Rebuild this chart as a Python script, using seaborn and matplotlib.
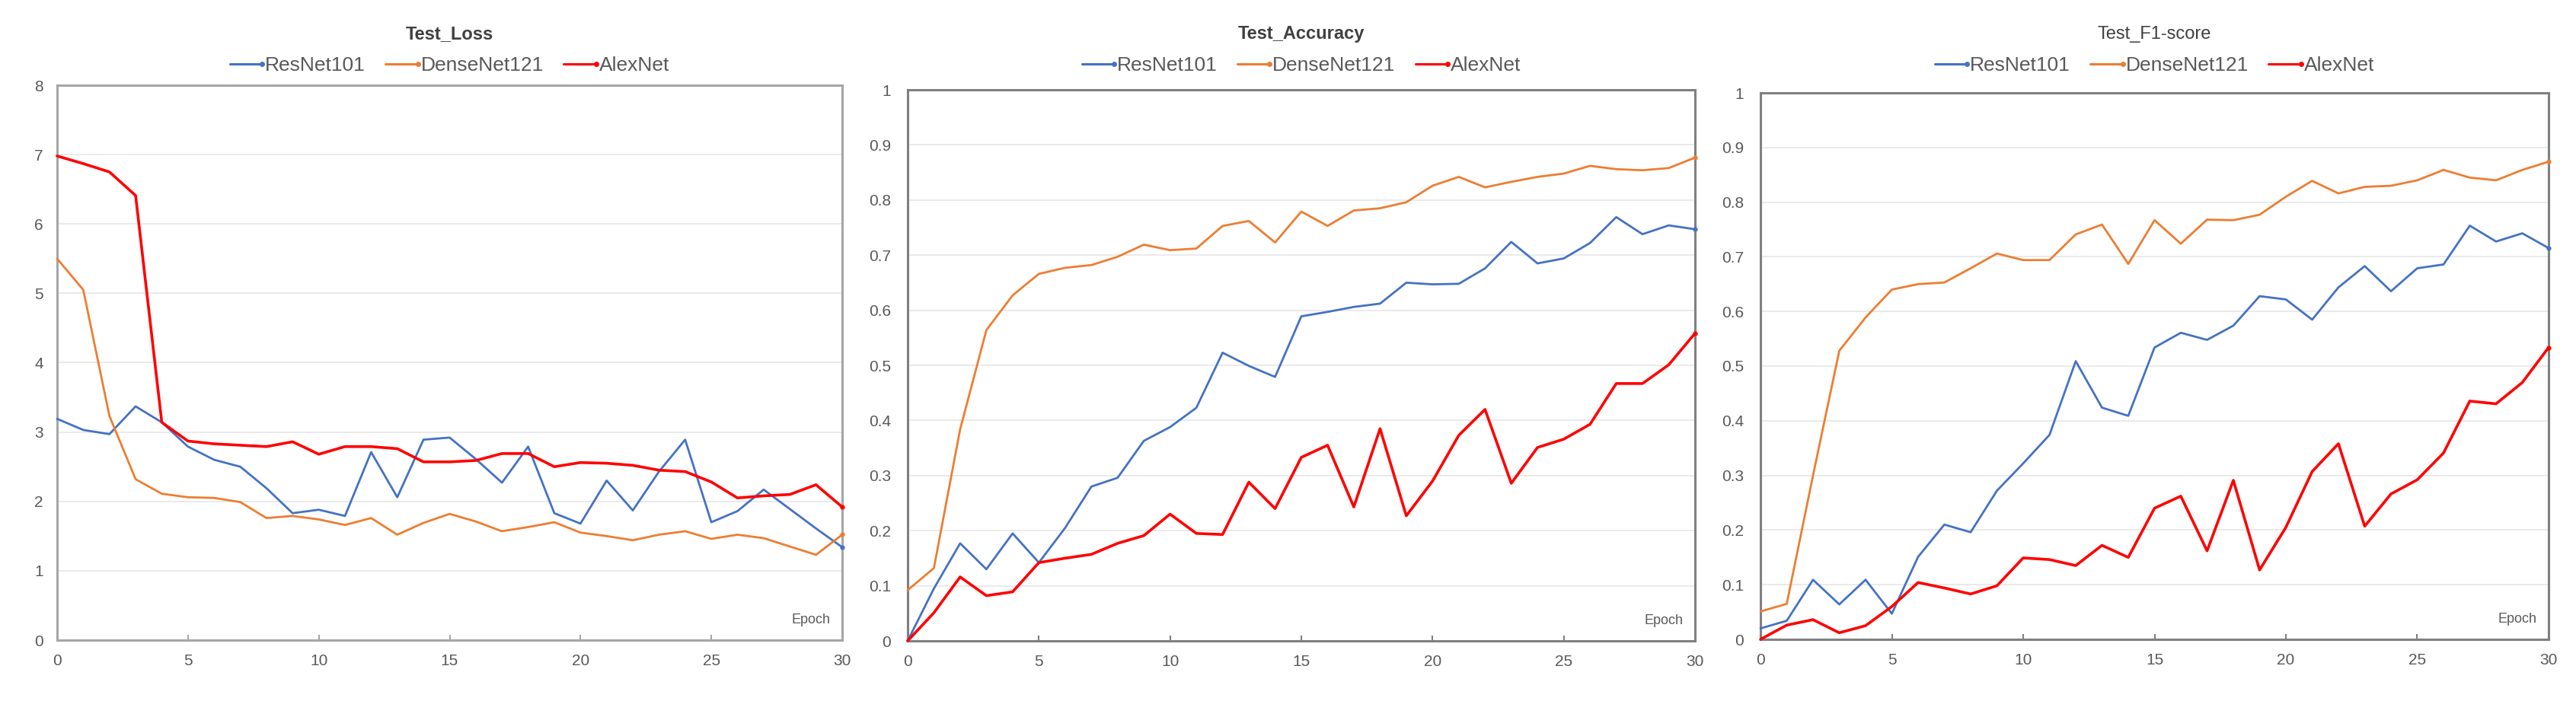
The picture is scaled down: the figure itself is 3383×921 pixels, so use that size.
import matplotlib
matplotlib.use("Agg")
import matplotlib.pyplot as plt
import seaborn as sns
import pandas as pd
from matplotlib.lines import Line2D
from matplotlib.legend_handler import HandlerLine2D

# ---------------- data ----------------
epochs = list(range(31))
models = ["ResNet101", "DenseNet121", "AlexNet"]
titles = ["Test_Loss", "Test_Accuracy", "Test_F1-score"]
x_ticks = [0, 5, 10, 15, 20, 25, 30]
loss_ticks = [0, 1, 2, 3, 4, 5, 6, 7, 8]
score_ticks = [0, 0.1, 0.2, 0.3, 0.4, 0.5, 0.6, 0.7, 0.8, 0.9, 1]

loss_resnet = [3.19, 3.03, 2.97, 3.37, 3.14, 2.79, 2.60, 2.50, 2.19, 1.83, 1.88,
               1.79, 2.71, 2.06, 2.89, 2.92, 2.61, 2.27, 2.79, 1.83, 1.68,
               2.30, 1.87, 2.43, 2.89, 1.70, 1.86, 2.17, 1.89, 1.61, 1.34]
loss_densenet = [5.50, 5.05, 3.23, 2.32, 2.11, 2.06, 2.05, 1.99, 1.76, 1.79, 1.74,
                 1.66, 1.76, 1.52, 1.69, 1.82, 1.71, 1.57, 1.63, 1.70, 1.55,
                 1.50, 1.44, 1.52, 1.57, 1.46, 1.52, 1.47, 1.35, 1.23, 1.52]
loss_alexnet = [6.98, 6.87, 6.75, 6.41, 3.14, 2.87, 2.83, 2.81, 2.79, 2.86, 2.68,
                2.79, 2.79, 2.76, 2.57, 2.57, 2.59, 2.69, 2.69, 2.50, 2.56,
                2.55, 2.52, 2.45, 2.43, 2.28, 2.05, 2.08, 2.10, 2.24, 1.92]

acc_resnet = [0.000, 0.095, 0.177, 0.130, 0.195, 0.142, 0.205, 0.280, 0.296, 0.363, 0.388,
              0.423, 0.523, 0.499, 0.479, 0.589, 0.597, 0.606, 0.612, 0.650, 0.647,
              0.648, 0.676, 0.724, 0.685, 0.694, 0.722, 0.769, 0.738, 0.754, 0.747]
acc_densenet = [0.092, 0.132, 0.384, 0.564, 0.627, 0.666, 0.677, 0.682, 0.697, 0.719, 0.709,
                0.712, 0.753, 0.762, 0.723, 0.779, 0.753, 0.781, 0.785, 0.796, 0.826,
                0.842, 0.823, 0.833, 0.842, 0.848, 0.862, 0.856, 0.854, 0.858, 0.877]
acc_alexnet = [0.000, 0.051, 0.116, 0.082, 0.089, 0.142, 0.150, 0.157, 0.177, 0.191, 0.230,
               0.195, 0.193, 0.288, 0.240, 0.333, 0.355, 0.243, 0.385, 0.227, 0.290,
               0.373, 0.420, 0.286, 0.351, 0.366, 0.393, 0.467, 0.467, 0.501, 0.558]

f1_resnet = [0.020, 0.034, 0.109, 0.064, 0.109, 0.047, 0.151, 0.210, 0.196, 0.272, 0.322,
             0.374, 0.509, 0.424, 0.409, 0.534, 0.561, 0.548, 0.574, 0.628, 0.622,
             0.585, 0.644, 0.683, 0.637, 0.679, 0.686, 0.757, 0.728, 0.743, 0.716]
f1_densenet = [0.051, 0.065, 0.300, 0.528, 0.589, 0.640, 0.650, 0.653, 0.679, 0.706, 0.694,
               0.694, 0.741, 0.759, 0.687, 0.767, 0.724, 0.768, 0.767, 0.777, 0.810,
               0.839, 0.816, 0.828, 0.830, 0.840, 0.859, 0.845, 0.840, 0.859, 0.874]
f1_alexnet = [0.000, 0.026, 0.036, 0.012, 0.025, 0.060, 0.104, 0.094, 0.083, 0.098, 0.149,
              0.146, 0.135, 0.172, 0.150, 0.240, 0.262, 0.162, 0.291, 0.127, 0.205,
              0.307, 0.358, 0.207, 0.266, 0.292, 0.341, 0.436, 0.431, 0.470, 0.534]

panel_series = [
    [loss_resnet, loss_densenet, loss_alexnet],
    [acc_resnet, acc_densenet, acc_alexnet],
    [f1_resnet, f1_densenet, f1_alexnet],
]

# ---------------- style ----------------
sns.set_theme(style="white")
plt.rcParams["font.family"] = ["Liberation Sans", "DejaVu Sans"]

colors = {"ResNet101": "#4472C4", "DenseNet121": "#ED7D31", "AlexNet": "#FF0000"}
widths = {"ResNet101": 2.0, "DenseNet121": 2.0, "AlexNet": 2.6}
text_grey = "#595959"
W, H = 3383, 921

# axes boxes in pixels: left, top, right, bottom
boxes = [(75, 112, 1106, 841), (1192, 118, 2226, 842), (2312, 122, 3347, 840)]
spine_cols = ["#A6A6A6", "#808080", "#808080"]
ylims = [(0, 8), (0, 1), (0, 1)]
yticks_list = [loss_ticks, score_ticks, score_ticks]
ypads = [13, 16, 16]
title_bold = ["bold", "bold", "normal"]


class EndMarkerHandler(HandlerLine2D):
    """Excel-style legend key: a short line with the marker at its right end."""
    def create_artists(self, legend, orig_handle, xdescent, ydescent,
                       width, height, fontsize, trans):
        arts = super().create_artists(legend, orig_handle, xdescent, ydescent,
                                      width, height, fontsize, trans)
        for a in arts:
            n = len(a.get_xdata())
            if a.get_markevery() is not None:
                a.set_markevery([n - 1])
        return arts


fig = plt.figure(figsize=(W / 100, H / 100), dpi=100)
fig.patch.set_facecolor("white")

for i in range(3):
    l, t, r, b = boxes[i]
    ax = fig.add_axes([l / W, 1 - b / H, (r - l) / W, (b - t) / H])
    df = pd.DataFrame({"Epoch": epochs * 3,
                       "value": sum(panel_series[i], []),
                       "Model": sum([[m] * len(epochs) for m in models], [])})
    for m in models:
        sub = df[df["Model"] == m]
        sns.lineplot(data=sub, x="Epoch", y="value", ax=ax, color=colors[m],
                     linewidth=widths[m], marker="o", markersize=4.5,
                     markeredgewidth=0, markevery=[len(epochs) - 1],
                     clip_on=False, zorder=3, legend=False)
    ax.set_xlim(0, 30)
    ax.set_ylim(*ylims[i])
    ax.set_xticks(x_ticks)
    ax.set_yticks(yticks_list[i])
    ax.set_yticklabels([f"{v:g}" for v in yticks_list[i]])
    ax.set_xlabel("")
    ax.set_ylabel("")
    ax.grid(axis="y", color="#E6E6E6", linewidth=1.2, zorder=0)
    ax.grid(axis="x", visible=False)
    for s in ax.spines.values():
        s.set_color(spine_cols[i])
        s.set_linewidth(2.2)
        s.set_visible(True)
    ax.tick_params(axis="x", direction="in", length=5, width=1.5,
                   color=spine_cols[i], labelsize=15, labelcolor=text_grey,
                   pad=13, bottom=True, top=False)
    ax.tick_params(axis="y", length=0, labelsize=15, labelcolor=text_grey,
                   pad=ypads[i])
    ax.text(0.985, 0.025, "Epoch", transform=ax.transAxes, ha="right",
            va="bottom", fontsize=13, color=text_grey)

    cx = (l + r) / 2 / W
    fig.text(cx, 1 - 45 / H, titles[i], ha="center", va="center",
             fontsize=17, fontweight=title_bold[i], color="#404040")
    handles = [Line2D([0], [0], color=colors[m], lw=2.2, marker="o",
                      markersize=5, markeredgewidth=0) for m in models]
    ax.legend(handles, models, loc="center", ncol=3, frameon=False,
              bbox_to_anchor=(cx, 1 - 86 / H), bbox_transform=fig.transFigure,
              fontsize=19, labelcolor=text_grey, handlelength=1.6,
              handletextpad=0.15, columnspacing=1.0, borderaxespad=0,
              handler_map={Line2D: EndMarkerHandler(numpoints=1)})

fig.savefig("out.png", dpi=100, facecolor="white")
